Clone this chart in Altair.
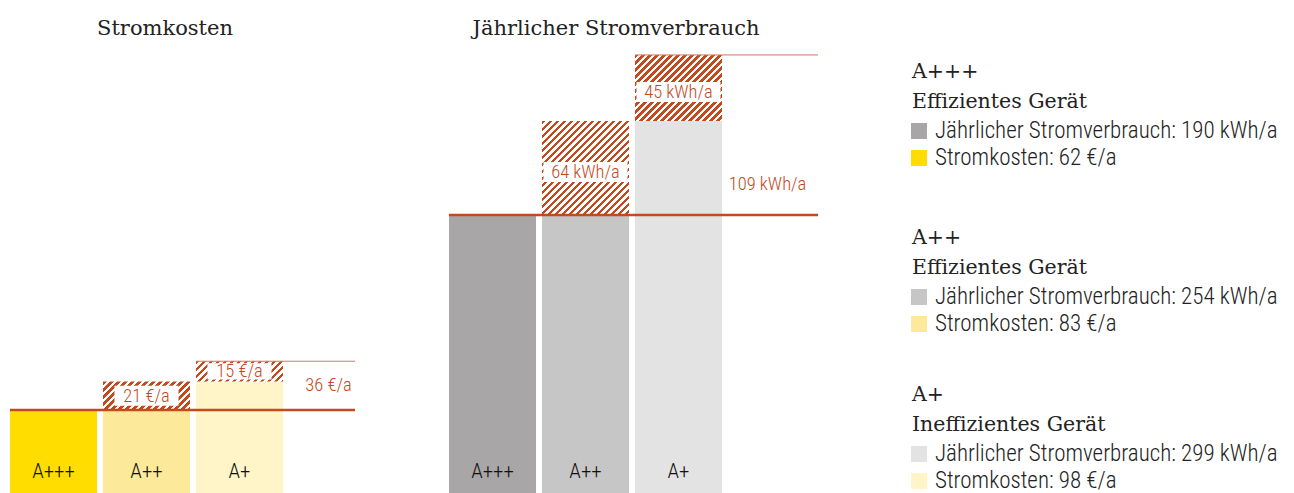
import altair as alt
import pandas as pd

# ---------------- data ----------------
classes = ["A+++", "A++", "A+"]
descriptions = ["Effizientes Gerät", "Effizientes Gerät", "Ineffizientes Gerät"]
kosten = [62, 83, 98]            # €/a
verbrauch = [190, 254, 299]      # kWh/a
kosten_farben = ["#ffdd00", "#fde99a", "#fff5c8"]
verbrauch_farben = ["#a8a6a7", "#c6c6c6", "#e3e3e3"]
titles = ["Stromkosten", "Jährlicher Stromverbrauch"]
units = ["€/a", "kWh/a"]
GAP_KEY = "Differenz"

# ---------------- style ----------------
ORANGE = "#c4491c"
THIN = "#d0785a"
SERIF = "DejaVu Serif"
SANS = "Roboto Condensed, Liberation Sans Narrow, DejaVu Sans Condensed, sans-serif"
TXT = "#222222"

PANEL_H = 482          # plot height (keeps the page inside the window)
BASE_PX = 486          # where the value 0 would sit (just below the visible area)
STEP = 93
GAP = 6
PAD_INNER = GAP / STEP
X_RANGE = [0, STEP * 4 - GAP]
BANDWIDTH = STEP - GAP
STRIPE = 7.0  # horizontal period of hatch in px


def hatch_gradient(w, h):
    """Linear gradient producing 45° '/' stripes inside a w x h box."""
    a = (w + h) * w / (w * w + h * h)
    n = int((w + h) / STRIPE) + 2
    stops = []
    for i in range(n):
        o0 = min(1.0, i * STRIPE / (w + h))
        o1 = min(1.0, (i + 0.5) * STRIPE / (w + h))
        o2 = min(1.0, (i + 1) * STRIPE / (w + h))
        stops += [
            alt.GradientStop(color=ORANGE, offset=o0),
            alt.GradientStop(color=ORANGE, offset=o1),
            alt.GradientStop(color="#ffffff", offset=o1),
            alt.GradientStop(color="#ffffff", offset=o2),
        ]
    return alt.Gradient(gradient="linear", stops=stops,
                        x1=0, y1=0, x2=a, y2=a * h / w)


def panel(values, colors, unit, title, k, width, title_x, total_dy, box_w, box_dy):
    lo = (BASE_PX - PANEL_H) / k
    ymax = BASE_PX / k
    xscale = alt.Scale(domain=classes + [GAP_KEY], range=X_RANGE,
                       paddingInner=PAD_INNER, paddingOuter=0)
    yscale = alt.Scale(domain=[lo, ymax], nice=False, zero=False)
    X = alt.X("cat:N", scale=xscale, axis=None)

    rows = []
    for i, c in enumerate(classes):
        base = values[i - 1] if i > 0 else values[0]
        rows.append(dict(cat=c, base=base, value=values[i], color=colors[i],
                         mid=(base + values[i]) / 2,
                         label=f"{values[i] - base} {unit}"))
    df = pd.DataFrame(rows)

    layers = []
    layers.append(alt.Chart(df).mark_bar(opacity=1).encode(
        x=X, y=alt.Y("base:Q", scale=yscale, axis=None),
        color=alt.Color("color:N", scale=None)))

    for i in range(1, len(classes)):
        h = (values[i] - values[i - 1]) * k
        layers.append(alt.Chart(df.iloc[[i]]).mark_bar(
            fill=hatch_gradient(BANDWIDTH, h), strokeWidth=0).encode(
            x=X, y=alt.Y("base:Q", scale=yscale, axis=None), y2="value:Q"))

    hatch = df.iloc[1:]
    for i in range(1, len(classes)):
        h = (values[i] - values[i - 1]) * k
        bh = min(20, h - 4)
        layers.append(alt.Chart(df.iloc[[i]]).mark_tick(
            color="white", opacity=1, size=box_w, thickness=bh, yOffset=box_dy).encode(
            x=X, y=alt.Y("mid:Q", scale=yscale, axis=None)))

    layers.append(alt.Chart(hatch).mark_text(
        font=SANS, fontSize=18.5, fontWeight=300, color=ORANGE, baseline="middle",
        yOffset=box_dy).encode(
        x=X, y=alt.Y("mid:Q", scale=yscale, axis=None), text="label:N"))

    # class labels inside bars
    layers.append(alt.Chart(df).mark_text(
        font=SANS, fontSize=21, fontWeight=300, color="#111111", baseline="middle").encode(
        x=X, y=alt.value(PANEL_H - 18), text="cat:N"))

    # reference lines
    layers.append(alt.Chart(pd.DataFrame({"v": [values[0]]})).mark_rule(
        color=ORANGE, strokeWidth=2.5).encode(
        x=alt.value(0), x2=alt.value(width), y=alt.Y("v:Q", scale=yscale, axis=None)))
    layers.append(alt.Chart(pd.DataFrame({"cat": [classes[-1]], "v": [values[-1]]})).mark_rule(
        color=THIN, strokeWidth=1).encode(
        x=alt.X("cat:N", scale=xscale, axis=None, bandPosition=0), x2=alt.value(width),
        y=alt.Y("v:Q", scale=yscale, axis=None)))

    # total difference label
    layers.append(alt.Chart(pd.DataFrame({
        "cat": [GAP_KEY], "v": [values[0]],
        "label": [f"{values[-1] - values[0]} {unit}"]})).mark_text(
        font=SANS, fontSize=18.5, fontWeight=300, color=ORANGE, baseline="middle",
        dy=total_dy, dx=-4).encode(
        x=X, y=alt.Y("v:Q", scale=yscale, axis=None), text="label:N"))

    # title
    layers.append(alt.Chart(pd.DataFrame({"t": [title]})).mark_text(
        font=SERIF, fontSize=21, color=TXT, baseline="middle").encode(
        x=alt.value(title_x), y=alt.value(21), text="t:N"))

    return alt.layer(*layers).properties(width=width, height=PANEL_H)


left = panel(kosten, kosten_farben, units[0], titles[0],
             k=84 / 62, width=345, title_x=155,
             total_dy=-25, box_w=64, box_dy=0)
center = panel(verbrauch, verbrauch_farben, units[1], titles[1],
               k=279 / 190, width=369, title_x=167,
               total_dy=-31, box_w=84, box_dy=4)

# ---------------- legend ----------------
group_tops = [64, 230, 387]
row_off = [0, 30, 59, 86]
head_rows, item_rows = [], []
for g, c in enumerate(classes):
    t = group_tops[g]
    head_rows.append(dict(py=t + row_off[0], text=c))
    head_rows.append(dict(py=t + row_off[1], text=descriptions[g]))
    item_rows.append(dict(py=t + row_off[2], color=verbrauch_farben[g],
                          text=f"Jährlicher Stromverbrauch: {verbrauch[g]} kWh/a"))
    item_rows.append(dict(py=t + row_off[3], color=kosten_farben[g],
                          text=f"Stromkosten: {kosten[g]} €/a"))
heads = pd.DataFrame(head_rows)
items = pd.DataFrame(item_rows)

legend = alt.layer(
    alt.Chart(heads).mark_text(font=SERIF, fontSize=20.5, color=TXT, align="left",
                               baseline="middle").encode(
        x=alt.value(0), y=alt.Y("py:Q", scale=None), text="text:N"),
    alt.Chart(items).mark_square(size=256, opacity=1).encode(
        x=alt.value(7), y=alt.Y("py:Q", scale=None),
        color=alt.Color("color:N", scale=None)),
    alt.Chart(items).mark_text(font=SANS, fontSize=23, fontWeight=300, color=TXT,
                               align="left", baseline="middle").encode(
        x=alt.value(23), y=alt.Y("py:Q", scale=None), text="text:N"),
).properties(width=360, height=PANEL_H)

chart = alt.hconcat(left, center, legend, spacing=94, bounds="flush").properties(
    padding=0
).configure_view(stroke=None)

chart.save("out.html", embed_options={"renderer": "svg", "actions": False})
